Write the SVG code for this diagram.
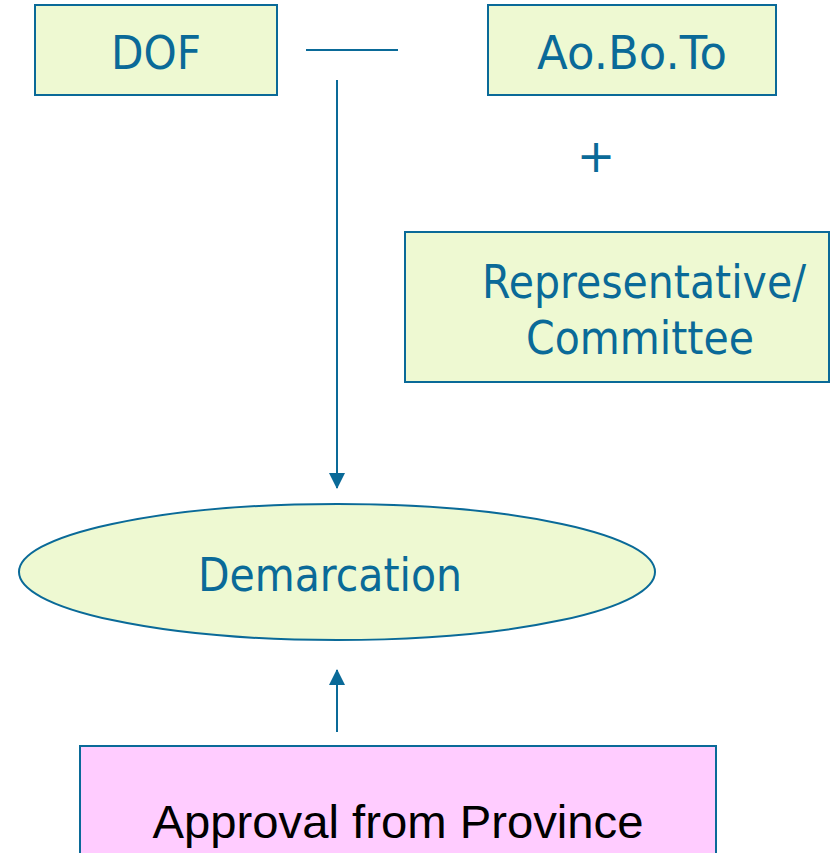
<svg xmlns="http://www.w3.org/2000/svg" width="831" height="853" viewBox="0 0 831 853">
  <style>
    .box { fill: #EEF9D2; stroke: #0A6A98; stroke-width: 2; }
    .pink { fill: #FFCCFF; stroke: #0A6A98; stroke-width: 2; }
    .lbl { font-family: "DejaVu Sans", "Liberation Sans", sans-serif; font-size: 46px; fill: #0A6A98; text-anchor: middle; }
    .dark { font-family: "Liberation Sans", "DejaVu Sans", sans-serif; font-size: 46px; fill: #000000; text-anchor: middle; }
    .conn { stroke: #0A6A98; stroke-width: 2; fill: none; }
  </style>
  <defs>
    <marker id="arrow" viewBox="0 0 16 16" refX="15" refY="8" markerWidth="16" markerHeight="16" markerUnits="userSpaceOnUse" orient="auto">
      <path d="M0,0 L16,8 L0,16 Z" fill="#0A6A98"/>
    </marker>
  </defs>
  <rect width="831" height="853" fill="#FFFFFF"/>

  <g id="connectors">
    <line class="conn" x1="306" y1="50" x2="398" y2="50"/>
    <line class="conn" x1="337" y1="80" x2="337" y2="488" marker-end="url(#arrow)"/>
    <line class="conn" x1="337" y1="732" x2="337" y2="670" marker-end="url(#arrow)"/>
  </g>

  <g id="dof">
    <rect class="box" x="35" y="5" width="242" height="90"/>
    <text class="lbl" x="156" y="69" textLength="90" lengthAdjust="spacingAndGlyphs">DOF</text>
  </g>

  <g id="aobotoo">
    <rect class="box" x="488" y="5" width="288" height="90"/>
    <text class="lbl" x="632" y="69" textLength="190" lengthAdjust="spacingAndGlyphs">Ao.Bo.To</text>
  </g>

  <g id="plus">
    <text class="lbl" x="596" y="172" font-size="26">+</text>
  </g>

  <g id="representative">
    <rect class="box" x="405" y="232" width="424" height="150"/>
    <text class="lbl" x="644" y="298" textLength="324" lengthAdjust="spacingAndGlyphs">Representative/</text>
    <text class="lbl" x="640" y="354" textLength="228" lengthAdjust="spacingAndGlyphs">Committee</text>
  </g>

  <g id="demarcation">
    <ellipse class="box" cx="337" cy="572" rx="318" ry="68"/>
    <text class="lbl" x="330" y="591" textLength="264" lengthAdjust="spacingAndGlyphs">Demarcation</text>
  </g>

  <g id="approval">
    <rect class="pink" x="80" y="746" width="636" height="120"/>
    <text class="dark" x="398" y="838" textLength="491" lengthAdjust="spacingAndGlyphs">Approval from Province</text>
  </g>
</svg>
